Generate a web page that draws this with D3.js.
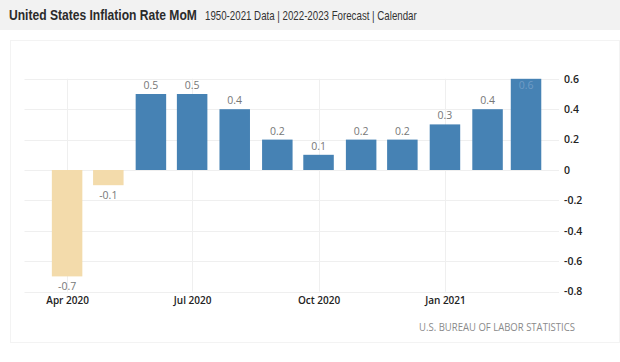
<!DOCTYPE html>
<html><head><meta charset="utf-8">
<script src="https://cdn.jsdelivr.net/npm/d3@7"></script>
<style>html,body{margin:0;padding:0;background:#fff;}svg{display:block;}</style>
</head><body>
<svg id="c" width="620" height="362"></svg>
<script>
const months = ["2020-04","2020-05","2020-06","2020-07","2020-08","2020-09","2020-10","2020-11","2020-12","2021-01","2021-02","2021-03"];
const values = [-0.7,-0.1,0.5,0.5,0.4,0.2,0.1,0.2,0.2,0.3,0.4,0.6];
const yTicks = [-0.8,-0.6,-0.4,-0.2,0,0.2,0.4,0.6];
const xTickLabels = ["Apr 2020","Jul 2020","Oct 2020","Jan 2021"];
const xTickDates = ["2020-04","2020-07","2020-10","2021-01"];
const title = "United States Inflation Rate MoM";
const subtitle = "1950-2021 Data | 2022-2023 Forecast | Calendar";
const source = "U.S. BUREAU OF LABOR STATISTICS";

const parse = d3.timeParse("%Y-%m");
const fmt = v => v === 0 ? "0" : d3.format(".1f")(v).replace("\u2212", "-");
const svg = d3.select("#c");

// text squeezed horizontally to a target width (start-anchored at x0)
function squeezed(str, x0, y0, width, attrs, anchorEnd) {
  const t = svg.append("text").text(str);
  Object.entries(attrs).forEach(([k,v])=>t.attr(k,v));
  const w = t.node().getComputedTextLength();
  const s = width / w;
  const left = anchorEnd ? x0 - width : x0;
  t.attr("transform", `translate(${left},${y0}) scale(${s},1)`);
  return t;
}

svg.append("rect").attr("x",0).attr("y",0).attr("width",620).attr("height",30).attr("fill","#f2f2f2");
squeezed(title, 9, 20, 188, {"font-family":"Liberation Sans, Arial, sans-serif","font-weight":"bold","font-size":15,"fill":"#2b2b2b"});
squeezed(subtitle, 205, 19.5, 212, {"font-family":"Liberation Sans, Arial, sans-serif","font-size":12,"fill":"#333"});

svg.append("rect").attr("x",10.5).attr("y",40.5).attr("width",609).attr("height",302).attr("fill","none").attr("stroke","#f3f3f3");

const x = d3.scaleTime().domain([new Date(2020,2,1), new Date(2021,2,25)]).range([24.5, 559]);
const y = d3.scaleLinear().domain([-0.8, 0.6]).range([291.6, 78.8]);

const g = svg.append("g");
g.selectAll("line.h").data(yTicks).join("line").attr("class","h")
  .attr("x1",x.range()[0]).attr("x2",x.range()[1])
  .attr("y1",d=>Math.round(y(d))+0.5).attr("y2",d=>Math.round(y(d))+0.5)
  .attr("stroke","#efefef");
g.selectAll("line.v").data(xTickDates).join("line").attr("class","v")
  .attr("x1",d=>Math.round(x(parse(d)))+0.5).attr("x2",d=>Math.round(x(parse(d)))+0.5)
  .attr("y1",y(0.6)).attr("y2",y(-0.8)).attr("stroke","#efefef");

const yAxis = svg.append("g").attr("transform","translate(559,0)")
  .call(d3.axisRight(y).tickValues(yTicks).tickSize(0).tickPadding(5).tickFormat(fmt));
yAxis.select(".domain").remove();
yAxis.selectAll("text").attr("font-family","Open Sans, sans-serif").attr("font-size",10.5)
  .attr("font-weight",600).attr("fill","#222");

const xAxis = svg.append("g").attr("transform","translate(0,292)")
  .call(d3.axisBottom(x).tickValues(xTickDates.map(parse)).tickSize(0).tickPadding(5)
    .tickFormat((d,i)=>xTickLabels[i]));
xAxis.select(".domain").remove();
xAxis.selectAll("text").attr("font-family","Open Sans, sans-serif").attr("font-size",10)
  .attr("font-weight",600).attr("fill","#222");

const data = months.map((m,i)=>({date:parse(m), v:values[i]}));
const bw = 30.5;
svg.append("g").selectAll("rect").data(data).join("rect")
  .attr("x",d=>x(d.date)-bw/2).attr("width",bw)
  .attr("y",d=>y(Math.max(0,d.v))).attr("height",d=>Math.abs(y(d.v)-y(0)))
  .attr("fill",d=>d.v<0?"#f3dbab":"#4682b4");

svg.append("g").selectAll("text").data(data).join("text")
  .attr("x",d=>x(d.date)).attr("text-anchor","middle")
  .attr("y",d=>{
    if (d.v>=0.6) return y(d.v)+10;
    return d.v<0 ? y(d.v)+14 : y(d.v)-5;
  })
  .attr("font-family","Open Sans, sans-serif").attr("font-size",10.5)
  .attr("fill",d=>d.v>=0.6?"#6f9cc6":"#777")
  .text(d=>fmt(d.v));

squeezed(source, 575, 331, 156, {"font-family":"Open Sans, sans-serif","font-size":10,"fill":"#8a8a8a"}, true);
</script>
</body></html>
